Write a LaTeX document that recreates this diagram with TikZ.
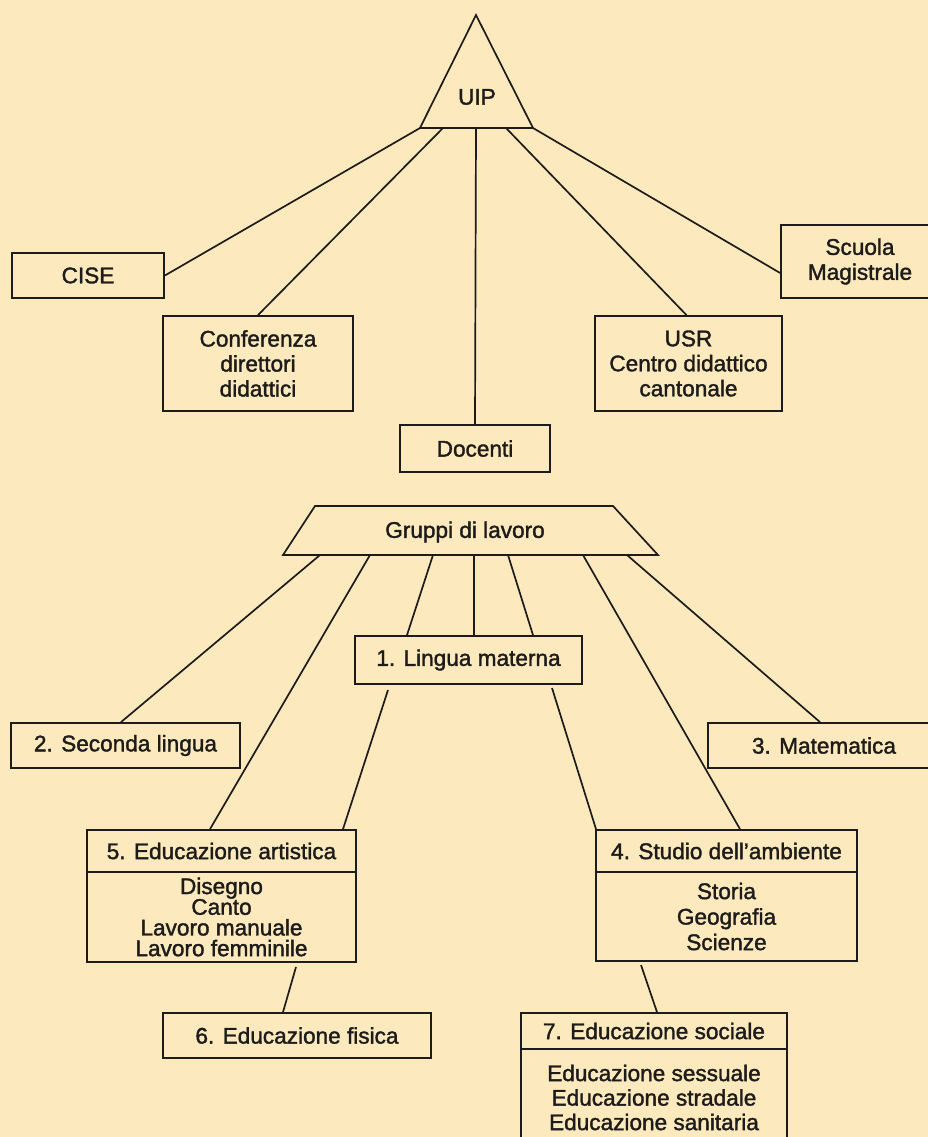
\documentclass[tikz,border=0pt]{standalone}
\usepackage{fontspec}
\setmainfont{Liberation Sans}
\newfontfamily\inkfont{Liberation Sans}[FakeBold=1.6]
\definecolor{bg}{RGB}{252,234,190}
\definecolor{ink}{RGB}{30,28,26}
\begin{document}
\begin{tikzpicture}[x=1pt,y=-1pt,
  box/.style={draw=ink, line width=1.8pt, text=ink, align=center, inner sep=0pt,
    font=\inkfont\fontsize{22.6}{25}\selectfont},
  link/.style={draw=ink, line width=1.7pt},
  lbl/.style={text=ink, inner sep=0pt, font=\inkfont\fontsize{22.6}{25}\selectfont}]
\useasboundingbox (0,0) rectangle (928,1137);
\fill[bg] (0,0) rectangle (928,1137);

% UIP triangle
\coordinate (apex) at (476,15);
\coordinate (tl) at (420,128);
\coordinate (tr) at (533,128);
\draw[link, line join=miter] (apex) -- (tl) -- (tr) -- cycle;
\node[lbl] (uip) at (477,97) {UIP};
\coordinate (t1) at (420,128);
\coordinate (t2) at (443,128);
\coordinate (t3) at (476,128);
\coordinate (t4) at (506,128);
\coordinate (t5) at (533,128);

% first level boxes
\node[box, minimum width=152pt, minimum height=45pt] (cise) at (88,275.5) {CISE};
\node[box, minimum width=158pt, minimum height=73pt] (scuola) at (860,261.5) {Scuola\\Magistrale};
\node[box, minimum width=190pt, minimum height=95pt] (conf) at (258,363.5) {Conferenza\\direttori\\didattici};
\node[box, minimum width=187pt, minimum height=95pt] (usr) at (688.5,363.5) {USR\\Centro didattico\\cantonale};
\node[box, minimum width=150pt, minimum height=47pt] (doc) at (475,448.5) {Docenti};

\draw[link] (t1) -- (cise.east);
\draw[link] (t2) -- (conf.north);
\draw[link] (t3) -- (doc.north);
\draw[link] (t4) -- ([xshift=-2pt]usr.north);
\draw[link] (t5) -- ([yshift=-11.5pt]scuola.west);

% Gruppi di lavoro trapezoid
\coordinate (ga) at (315,506);
\coordinate (gb) at (613,506);
\coordinate (gc) at (658,555);
\coordinate (gd) at (283,555);
\draw[link, line join=miter] (ga) -- (gb) -- (gc) -- (gd) -- cycle;
\node[lbl] (gruppi) at (465,532) {Gruppi di lavoro};
\coordinate (g1) at (320,555);
\coordinate (g2) at (370,555);
\coordinate (g3) at (433,555);
\coordinate (g4) at (474,555);
\coordinate (g5) at (508,555);
\coordinate (g6) at (583,555);
\coordinate (g7) at (627,555);

% second level
\node[box, minimum width=227pt, minimum height=48pt] (lingua) at (468.5,660) {1. Lingua materna};
\node[box, minimum width=229pt, minimum height=45pt] (sec) at (125.5,745.5) {2. Seconda lingua};
\node[box, minimum width=232pt, minimum height=45pt] (mat) at (824,745.5) {3. Matematica};

\node[box, minimum width=269pt, minimum height=42pt] (arthead) at (221.5,851) {5. Educazione artistica};
\node[box, minimum width=269pt, minimum height=90pt, font=\inkfont\fontsize{22.6}{20.7}\selectfont] (artbody) at (221.5,917) {Disegno\\Canto\\Lavoro manuale\\Lavoro femminile};

\node[box, minimum width=261pt, minimum height=42pt] (studhead) at (726.5,851) {4. Studio dell’ambiente};
\node[box, minimum width=261pt, minimum height=89pt, font=\inkfont\fontsize{22.6}{25.5}\selectfont] (studbody) at (726.5,916.5) {Storia\\Geografia\\Scienze};

\node[box, minimum width=268pt, minimum height=45pt] (fis) at (297,1035.5) {6. Educazione fisica};

\node[box, minimum width=266pt, minimum height=36pt] (sochead) at (654,1031) {7. Educazione sociale};
\node[box, minimum width=266pt, minimum height=97pt, font=\inkfont\fontsize{22.6}{24.5}\selectfont] (socbody) at (654,1097.5) {Educazione sessuale\\Educazione stradale\\Educazione sanitaria};

\draw[link] (g1) -- ([xshift=-4.5pt]sec.north);
\draw[link] (g2) -- ([xshift=-11.5pt]arthead.north);
\draw[link] (g3) -- ([xshift=-61.5pt]lingua.north);
\draw[link] (g4) -- ([xshift=5.5pt]lingua.north);
\draw[link] (g5) -- ([xshift=64.5pt]lingua.north);
\draw[link] (g6) -- ([xshift=13.5pt]studhead.north);
\draw[link] (g7) -- ([xshift=-4pt]mat.north);

\coordinate (l1) at (388,690);
\coordinate (l2) at (552,688);
\draw[link] (l1) -- ([xshift=121.5pt]arthead.north);
\draw[link] (l2) -- ([xshift=-130.5pt]studhead.north);

\coordinate (a6) at (296,967);
\coordinate (a7) at (641,965);
\draw[link] (a6) -- ([xshift=-14pt]fis.north);
\draw[link] (a7) -- ([xshift=3pt]sochead.north);
\end{tikzpicture}
\end{document}
